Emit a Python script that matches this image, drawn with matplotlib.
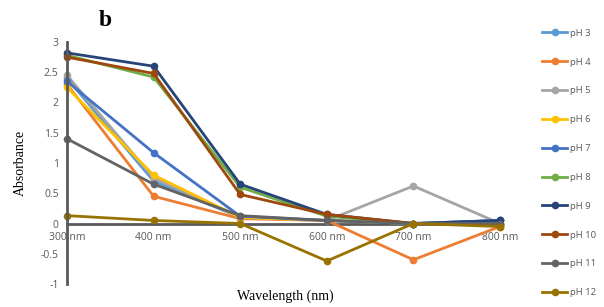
import numpy as np
import matplotlib
matplotlib.use("Agg")
import matplotlib.pyplot as plt

wavelengths = [300, 400, 500, 600, 700, 800]
tick_labels = ["300 nm", "400 nm", "500 nm", "600 nm", "700 nm", "800 nm"]

ph3 = [2.40, 0.70, 0.10, 0.05, 0.00, 0.05]
ph4 = [2.30, 0.45, 0.08, 0.05, -0.60, -0.05]
ph5 = [2.45, 0.75, 0.10, 0.05, 0.62, 0.00]
ph6 = [2.25, 0.80, 0.10, 0.05, 0.00, 0.00]
ph7 = [2.35, 1.17, 0.12, 0.05, 0.00, 0.05]
ph8 = [2.78, 2.42, 0.60, 0.12, 0.00, 0.00]
ph9 = [2.82, 2.60, 0.65, 0.15, 0.00, 0.05]
ph10 = [2.75, 2.48, 0.48, 0.15, 0.00, -0.02]
ph11 = [1.40, 0.65, 0.13, 0.05, 0.00, 0.00]
ph12 = [0.13, 0.05, 0.00, -0.62, 0.00, -0.05]

labels = ["pH 3", "pH 4", "pH 5", "pH 6", "pH 7", "pH 8", "pH 9", "pH 10", "pH 11", "pH 12"]
series = [ph3, ph4, ph5, ph6, ph7, ph8, ph9, ph10, ph11, ph12]
colors = ["#5B9BD5", "#ED7D31", "#A5A5A5", "#FFC000", "#4472C4",
          "#70AD47", "#264478", "#9E480E", "#636363", "#997300"]

fig = plt.figure(figsize=(6.04, 3.07), dpi=100)
ax = fig.add_axes([67/604, 1 - 284/307, (500 - 67)/604, (284 - 42)/307])

for vals, lab, col in zip(series, labels, colors):
    ax.plot(wavelengths, vals, color=col, lw=2.0, marker="o", ms=4.5, label=lab)

ax.set_xlim(300, 800)
ax.set_ylim(-1, 3)
ax.set_yticks([-1, -0.5, 0, 0.5, 1, 1.5, 2, 2.5, 3])
ax.set_yticklabels(["-1", "-0.5", "0", "0.5", "1", "1.5", "2", "2.5", "3"])
ax.set_xticks(wavelengths)
ax.set_xticklabels(tick_labels)

for s in ["top", "right"]:
    ax.spines[s].set_visible(False)
ax.spines["left"].set_position(("data", 300))
ax.spines["bottom"].set_position(("data", 0))
ax.spines["left"].set_color("#595959")
ax.spines["left"].set_linewidth(2)
ax.spines["bottom"].set_color("#595959")
ax.spines["bottom"].set_linewidth(2)
ax.spines["bottom"].set_zorder(0)
ax.tick_params(length=0, labelsize=7.5, labelcolor="#595959", pad=6)
for t in ax.get_yticklabels():
    t.set_fontfamily("Open Sans")
for t in ax.get_xticklabels():
    t.set_fontfamily("Open Sans")
for ln in ax.lines:
    ln.set_clip_on(False)

fig.text(20/604, 1 - 163/307, "Absorbance", rotation=90, ha="center", va="center",
         fontsize=10, family="Liberation Serif")
fig.text(285/604, 1 - 296/307, "Wavelength (nm)", ha="center", va="center",
         fontsize=10, family="Liberation Serif")
fig.text(105/604, 1 - 21/307, "b", ha="center", va="center",
         fontsize=17, fontweight="bold", family="Liberation Serif")

fig.legend(loc="upper left", bbox_to_anchor=(538/604, 1 - 25/307), frameon=False,
           prop={"family": "Open Sans", "size": 6.8}, labelcolor="#595959",
           labelspacing=2.1, handlelength=2.7, handletextpad=0.3, borderaxespad=0)

fig.savefig("out.png", dpi=100)
